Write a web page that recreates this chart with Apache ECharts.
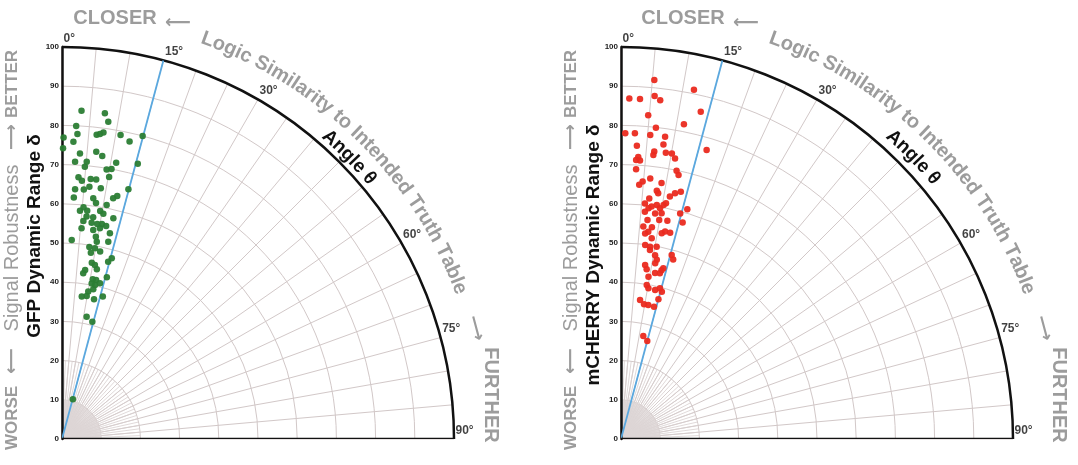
<!DOCTYPE html>
<html>
<head>
<meta charset="utf-8">
<script src="https://cdn.jsdelivr.net/npm/echarts@6/dist/echarts.min.js"></script>
<style>
  html, body { margin: 0; padding: 0; background: #fff; }
  #chart { width: 1078px; height: 465px; }
</style>
</head>
<body>
<div id="chart"></div>
<script>
// GFP panel: dynamic range delta and angle theta (deg)
const gfpRange = [83.9, 83.8, 81.8, 79.9, 77.9, 78.1, 78.4, 78.9, 76.9, 75.9, 79.0, 77.8, 80.0, 73.0, 73.8, 72.9,
  70.8, 71.0, 71.8, 72.8, 69.7, 69.7, 70.0, 66.9, 66.1, 66.7, 66.8, 67.9, 63.8, 63.9, 64.7, 64.7, 65.9, 61.7,
  61.9, 62.8, 63.6, 60.8, 60.8, 59.4, 58.4, 58.6, 59.0, 58.4, 57.8, 57.1, 57.1, 55.9, 55.7, 55.6, 55.8, 55.5,
  54.0, 53.9, 54.6, 53.9, 50.8, 52.3, 51.1, 51.7, 49.5, 49.4, 48.1, 48.8, 47.8, 46.7, 45.6, 45.2, 44.2, 43.5,
  42.6, 42.8, 41.5, 41.5, 40.4, 40.2, 40.9, 39.0, 38.2, 37.0, 36.7, 37.8, 36.6, 31.8, 30.9, 74.2, 10.5];
const gfpAngle = [3.4, 7.5, 8.3, 2.6, 2.9, 6.5, 7.1, 7.7, 0.3, 2.2, 10.9, 12.8, 14.9, 3.6, 6.8, 8.1,
  2.7, 5.1, 11.1, 15.4, 4.8, 9.4, 10.4, 3.6, 4.4, 6.3, 7.5, 10.2, 3.0, 5.0, 6.2, 8.8, 14.9, 2.8,
  7.4, 12.0, 12.8, 8.2, 10.8, 5.3, 4.5, 6.3, 9.5, 10.4, 13.1, 6.3, 8.0, 5.6, 7.8, 9.3, 10.5, 11.7,
  5.3, 8.5, 10.2, 13.1, 2.8, 9.5, 10.0, 13.2, 8.1, 9.8, 8.8, 11.5, 15.4, 14.6, 9.6, 10.7, 11.6, 7.8,
  7.3, 15.5, 10.9, 12.1, 10.8, 12.1, 13.7, 11.8, 10.1, 9.8, 7.9, 16.0, 12.9, 11.4, 14.5, 0.2, 15.3];

// mCHERRY panel
const cherryRange = [92.0, 91.0, 86.9, 86.9, 87.9, 87.0, 85.9, 82.9, 81.9, 79.9, 78.0, 78.1, 77.9, 77.9, 74.9,
  75.9, 76.9, 73.8, 72.9, 73.9, 74.0, 72.9, 72.1, 71.3, 71.2, 68.9, 69.9, 68.9, 66.9, 65.9, 65.0, 66.1, 64.0,
  63.4, 63.1, 64.2, 64.9, 61.8, 60.4, 59.3, 59.8, 60.4, 59.7, 60.7, 61.2, 61.0, 58.3, 58.2, 58.5, 59.5, 56.3,
  56.7, 56.9, 57.4, 54.5, 54.6, 52.8, 53.3, 53.5, 54.1, 54.1, 51.8, 49.9, 49.6, 49.9, 48.8, 48.7, 47.7, 47.7,
  46.6, 45.7, 44.8, 43.8, 44.3, 44.9, 43.2, 42.0, 43.4, 39.8, 39.1, 39.0, 39.7, 39.0, 35.8, 34.9, 34.9, 34.8,
  36.9, 26.9, 25.9];
const cherryAngle = [5.3, 11.8, 1.4, 3.2, 5.6, 6.6, 13.7, 4.8, 11.3, 6.4, 0.8, 2.6, 5.5, 8.3, 3.1,
  8.2, 16.5, 6.6, 6.5, 8.9, 10.1, 10.9, 3.5, 3.1, 3.9, 3.2, 11.7, 12.3, 6.4, 4.8, 4.1, 9.0, 8.2,
  8.6, 11.4, 12.4, 13.6, 6.7, 5.8, 6.8, 7.5, 8.7, 9.6, 10.3, 10.8, 16.1, 6.0, 8.6, 10.2, 14.7, 6.9,
  9.9, 12.0, 15.9, 6.0, 8.3, 6.7, 7.5, 11.2, 12.0, 13.4, 8.7, 7.1, 8.6, 10.5, 8.7, 15.4, 16.2, 10.5,
  11.3, 11.0, 7.9, 8.6, 13.5, 13.9, 11.6, 9.6, 13.2, 9.5, 10.3, 12.9, 14.5, 15.5, 7.8, 9.7, 11.5, 14.0,
  15.0, 12.2, 15.0];

const angleTickLabels = [0, 15, 30, 60, 75, 90];
const refAngle = 15;

const GRAY = '#9c9c9c';
const GRID = '#d2c8c8';
const FONT = '"Liberation Sans", Arial, sans-serif';

const panels = [
  { cx: 62, cy: 439, tdx: 0, adx: 0, name: 'GFP Dynamic Range δ', nameY: 236, color: '#2b7d34', r: gfpRange, a: gfpAngle },
  { cx: 621, cy: 439, tdx: 568, adx: 564, name: 'mCHERRY Dynamic Range δ', nameY: 255, color: '#ea2a1f', r: cherryRange, a: cherryAngle }
];
const R = 392;

const measureCtx = document.createElement('canvas').getContext('2d');

function arcText(text, cx, cy, r, startDeg, size, weight, color) {
  measureCtx.font = weight + ' ' + size + 'px ' + FONT;
  let a = startDeg * Math.PI / 180;
  const out = [];
  for (const ch of text) {
    const w = measureCtx.measureText(ch).width;
    const mid = a + (w / 2) / r;
    if (ch !== ' ') {
      out.push({
        type: 'text', x: cx + r * Math.sin(mid), y: cy - r * Math.cos(mid), rotation: -mid,
        style: { text: ch, fill: color, fontSize: size, fontWeight: weight, fontFamily: FONT, align: 'center', verticalAlign: 'middle' }
      });
    }
    a += w / r;
  }
  return out;
}

function txt(x, y, text, size, weight, color, rot, family) {
  return {
    type: 'text', x: x, y: y, rotation: rot || 0,
    style: { text: text, fill: color, fontSize: size, fontWeight: weight, fontFamily: family || FONT, align: 'center', verticalAlign: 'middle' }
  };
}

const polar = [], angleAxis = [], radiusAxis = [], series = [], graphic = [];

panels.forEach((p, i) => {
  polar[i] = { center: [p.cx, p.cy], radius: R };
  polar[i + 2] = { center: [p.cx, p.cy], radius: R * 0.2 };
  polar[i + 4] = { center: [p.cx, p.cy], radius: R * 0.1 };

  angleAxis[i] = {
    polarIndex: i, type: 'value', min: 0, max: 90, interval: 5, startAngle: 90, endAngle: 0, clockwise: true,
    axisLine: { lineStyle: { color: '#111', width: 2.5 } },
    axisTick: { show: false }, axisLabel: { show: false },
    splitLine: { lineStyle: { color: GRID, width: 1 } }
  };
  radiusAxis[i] = {
    polarIndex: i, type: 'value', min: 0, max: 100, interval: 10,
    axisLine: { lineStyle: { color: '#111', width: 2.5 } },
    axisTick: { show: false },
    axisLabel: { fontSize: 8, fontWeight: 'bold', color: '#222', margin: 3, fontFamily: FONT },
    splitLine: { lineStyle: { color: GRID, width: 1 } }
  };
  [[i + 2, 2.5, '#d8cfcf'], [i + 4, 1, '#ddd6d6']].forEach(([k, step, c]) => {
    angleAxis[k] = {
      polarIndex: k, type: 'value', min: 0, max: 90, interval: step, startAngle: 90, endAngle: 0, clockwise: true,
      axisLine: { show: false }, axisTick: { show: false }, axisLabel: { show: false },
      splitLine: { lineStyle: { color: c, width: 0.8 } }
    };
    radiusAxis[k] = {
      polarIndex: k, type: 'value', min: 0, max: 1,
      axisLine: { show: false }, axisTick: { show: false }, axisLabel: { show: false }, splitLine: { show: false }
    };
  });

  series.push({
    type: 'line', coordinateSystem: 'polar', polarIndex: i, symbol: 'none', silent: true, z: 3,
    data: [[0, refAngle], [100, refAngle]], lineStyle: { color: '#5aa8df', width: 1.8 }
  });
  series.push({
    type: 'line', coordinateSystem: 'polar', polarIndex: i, symbol: 'none', silent: true, z: 3,
    data: [[0, 90], [100, 90]], lineStyle: { color: '#111', width: 2.5 }
  });
  series.push({
    type: 'scatter', coordinateSystem: 'polar', polarIndex: i, symbolSize: 6.5, z: 5,
    itemStyle: { color: p.color, opacity: 0.95 },
    data: p.r.map((v, j) => [v, p.a[j]])
  });
  series.push({
    type: 'scatter', coordinateSystem: 'polar', polarIndex: i, symbolSize: 1, z: 6, silent: true,
    itemStyle: { color: 'rgba(0,0,0,0)' },
    label: {
      show: true, position: [2, -14], formatter: d => d.value[1] + '°',
      fontSize: 12, fontWeight: 'bold', color: '#111', fontFamily: FONT
    },
    data: angleTickLabels.map(a => [100, a])
  });

  // left side captions
  const lx = 12 + p.cx - 62;
  graphic.push(txt(lx, 418, 'WORSE', 17, 'bold', GRAY, Math.PI / 2));
  graphic.push(txt(lx, 361, '⟵', 18, 'bold', GRAY, Math.PI / 2, 'DejaVu Sans'));
  graphic.push(txt(lx, 248, 'Signal Robustness', 20, 'normal', GRAY, Math.PI / 2));
  graphic.push(txt(lx, 137, '⟶', 18, 'bold', GRAY, Math.PI / 2, 'DejaVu Sans'));
  graphic.push(txt(lx, 84, 'BETTER', 17, 'bold', GRAY, Math.PI / 2));
  graphic.push(txt(35 + p.cx - 62, p.nameY, p.name, 19, 'bold', '#111', Math.PI / 2));

  // top / right captions
  graphic.push(txt(115 + p.tdx, 18, 'CLOSER', 20, 'bold', GRAY, 0));
  graphic.push(txt(178 + p.tdx, 23, '⟵', 18, 'bold', GRAY, 0, 'DejaVu Sans'));
  graphic.push(...arcText('Logic Similarity to Intended Truth Table', 62 + p.tdx, 439, 425, 19.2, 20, 'bold', GRAY));
  const aa = 75 * Math.PI / 180;
  graphic.push(txt(62 + p.tdx + 428 * Math.sin(aa), 439 - 428 * Math.cos(aa), '⟶', 18, 'bold', GRAY, -aa, 'DejaVu Sans'));
  graphic.push(txt(491 + p.tdx, 395, 'FURTHER', 20, 'bold', GRAY, -Math.PI / 2));
  graphic.push(...arcText('Angle θ', 62 + p.adx, 439, 403, 40.7, 19, 'bold', '#111'));
});

const chart = echarts.init(document.getElementById('chart'));
chart.setOption({
  animation: false,
  backgroundColor: '#fff',
  polar: polar,
  angleAxis: angleAxis,
  radiusAxis: radiusAxis,
  series: series,
  graphic: graphic
});
</script>
</body>
</html>
